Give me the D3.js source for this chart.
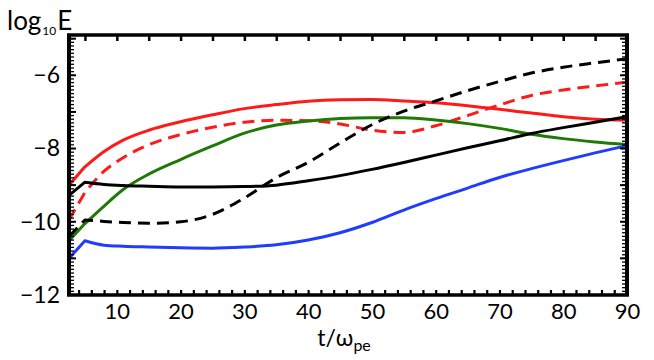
<!DOCTYPE html>
<html><head><meta charset="utf-8">
<script src="https://cdn.jsdelivr.net/npm/d3@7"></script>
<style>body{margin:0;background:#fff}svg{display:block}</style>
</head><body>
<script>
const tVals = [2.5, 5, 8, 11, 15, 20, 25, 30, 35, 40, 45, 50, 55, 60, 65, 70, 75, 80, 85, 90];
const redSolid   = [-9.0, -8.5, -8.08, -7.77, -7.5, -7.27, -7.08, -6.91, -6.8, -6.71, -6.67, -6.66, -6.7, -6.75, -6.83, -6.93, -7.03, -7.13, -7.2, -7.23];
const redDashed  = [-9.95, -9.2, -8.62, -8.25, -7.9, -7.62, -7.42, -7.28, -7.23, -7.24, -7.33, -7.5, -7.56, -7.38, -7.1, -6.81, -6.55, -6.4, -6.29, -6.19];
const green      = [-10.52, -10.05, -9.57, -9.12, -8.7, -8.3, -7.93, -7.58, -7.36, -7.25, -7.18, -7.16, -7.16, -7.22, -7.32, -7.45, -7.61, -7.73, -7.82, -7.89];
const blackSolid = [-9.28, -8.92, -8.98, -9.01, -9.03, -9.05, -9.05, -9.04, -9.0, -8.88, -8.74, -8.57, -8.38, -8.18, -7.98, -7.79, -7.59, -7.43, -7.28, -7.13];
const blackDashed= [-10.4, -9.95, -9.99, -10.02, -10.04, -10.0, -9.8, -9.35, -8.8, -8.38, -7.85, -7.35, -6.98, -6.7, -6.42, -6.17, -5.94, -5.78, -5.66, -5.55];
const blue       = [-11.0, -10.52, -10.64, -10.67, -10.69, -10.71, -10.72, -10.69, -10.63, -10.5, -10.3, -10.02, -9.68, -9.37, -9.08, -8.79, -8.55, -8.33, -8.12, -7.92];
const xTickLabels = [10, 20, 30, 40, 50, 60, 70, 80, 90];
const yTickLabels = [-6, -8, -10, -12];

const series = [
  {v: redSolid, color: "#ff1a1a", dash: null},
  {v: redDashed, color: "#ff1a1a", dash: "12,7"},
  {v: green, color: "#1f7a05", dash: null},
  {v: blackSolid, color: "#000", dash: null},
  {v: blackDashed, color: "#000", dash: "12,7"},
  {v: blue, color: "#1f3cff", dash: null}
];

const W = 654, H = 360;
const L = 69, R = 627, T = 35, B = 295;
const x = d3.scaleLinear().domain([2.5, 90]).range([L, R]);
const y = d3.scaleLinear().domain([-12, -4.9]).range([B, T]);
const font = "Lato, 'Open Sans', sans-serif";

const svg = d3.select("body").append("svg").attr("width", W).attr("height", H);
svg.append("defs").append("clipPath").attr("id","clip")
  .append("rect").attr("x", L).attr("y", T).attr("width", R-L).attr("height", B-T);

// first segment straight (kink at t≈5), rest smooth
const lin = d3.line().x(d=>x(d[0])).y(d=>y(d[1]));
const smooth = d3.line().x(d=>x(d[0])).y(d=>y(d[1])).curve(d3.curveMonotoneX);
function pathFor(v){
  const pts = v.map((d,i)=>[tVals[i], d]);
  const p1 = lin(pts.slice(0,2));
  const p2 = smooth(pts.slice(1)).replace(/^M[^LC]*/, "");
  return p1 + p2;
}
const g = svg.append("g").attr("clip-path","url(#clip)");
series.forEach(s=>{
  g.append("path").attr("d", pathFor(s.v)).attr("fill","none")
   .attr("stroke", s.color).attr("stroke-width", 3)
   .attr("stroke-linejoin","round")
   .attr("stroke-dasharray", s.dash);
});

// minor ticks
const yMinor = d3.range(-12, -4.9, 0.1);
const yMajor = d3.range(-12, -4.9, 1);
function vTicks(xpos, dir){
  svg.append("g").selectAll("line").data(yMinor).join("line")
    .attr("x1", xpos).attr("x2", xpos + dir*4)
    .attr("y1", d=>y(d)).attr("y2", d=>y(d))
    .attr("stroke","#000").attr("stroke-width",1.3);
  svg.append("g").selectAll("line").data(yMajor).join("line")
    .attr("x1", xpos).attr("x2", xpos + dir*6)
    .attr("y1", d=>y(d)).attr("y2", d=>y(d))
    .attr("stroke","#000").attr("stroke-width",2);
}
vTicks(L+1, 1);
vTicks(R-1, -1);

// bottom axis minor ticks
const xb = d3.axisBottom(x).tickValues(d3.range(4, 90, 2)).tickSize(-5).tickFormat("");
svg.append("g").attr("transform",`translate(0,${B})`).call(xb)
  .call(a=>{a.select(".domain").remove(); a.selectAll("line").attr("stroke-width",2.2);});
// top axis ticks
const xt = d3.axisTop(x).tickValues(d3.range(5, 90, 5)).tickSize(-6).tickFormat("");
svg.append("g").attr("transform",`translate(0,${T})`).call(xt)
  .call(a=>{a.select(".domain").remove(); a.selectAll("line").attr("stroke-width",2.5);});

// frame
svg.append("line").attr("x1",L-2).attr("x2",R+2).attr("y1",T).attr("y2",T).attr("stroke","#000").attr("stroke-width",3.5);
svg.append("line").attr("x1",L-2).attr("x2",R+2).attr("y1",B).attr("y2",B).attr("stroke","#000").attr("stroke-width",3.5);
svg.append("line").attr("x1",L).attr("x2",L).attr("y1",T-1).attr("y2",B+1).attr("stroke","#000").attr("stroke-width",4);
svg.append("line").attr("x1",R).attr("x2",R).attr("y1",T-1).attr("y2",B+1).attr("stroke","#000").attr("stroke-width",4);

// tick labels
const xl = d3.axisBottom(x).tickValues(xTickLabels).tickSize(0).tickPadding(0);
svg.append("g").attr("transform",`translate(0,${B})`).call(xl)
  .call(a=>{a.select(".domain").remove();
    a.selectAll("text").attr("font-family",font).attr("font-size",22).attr("fill","#000")
      .attr("y",24).attr("dy",0);});
const yl = d3.axisLeft(y).tickValues(yTickLabels).tickSize(0).tickPadding(8);
svg.append("g").attr("transform",`translate(${L-1},0)`).call(yl)
  .call(a=>{a.select(".domain").remove();
    a.selectAll("text").attr("font-family",font).attr("font-size",23).attr("fill","#000");});

// axis titles
const yt = svg.append("text").attr("x",7).attr("y",30).attr("font-family",font).attr("font-size",26).attr("fill","#000");
yt.append("tspan").text("log");
yt.append("tspan").attr("font-size",12).attr("dy",5).attr("dx",1).text("10");
yt.append("tspan").attr("dy",-5).attr("dx",1).text("E");

const xt2 = svg.append("text").attr("x",344).attr("y",346).attr("text-anchor","middle").attr("font-family",font).attr("font-size",23).attr("fill","#000");
xt2.append("tspan").text("t/ω");
xt2.append("tspan").attr("font-size",16).attr("dy",5).text("pe");
</script>
</body></html>
